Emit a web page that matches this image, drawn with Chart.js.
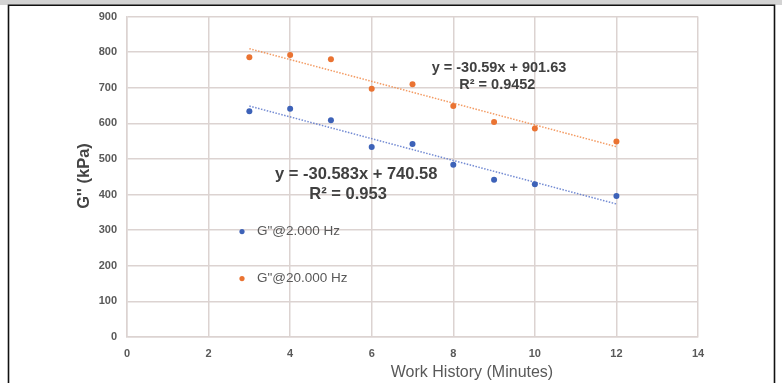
<!DOCTYPE html>
<html>
<head>
<meta charset="utf-8">
<script src="https://cdn.jsdelivr.net/npm/chart.js@4/dist/chart.umd.min.js"></script>
<style>
html,body{margin:0;padding:0;background:#fff;}
#wrap{position:relative;width:782px;height:383px;}
canvas{display:block;}
</style>
</head>
<body>
<div id="wrap"><canvas id="c" width="782" height="383"></canvas></div>
<script>
// ---- data ----
const minutes = [3, 4, 5, 6, 7, 8, 9, 10, 12];
const g2Hz = [634, 641, 609, 534, 542, 484, 442, 429, 396];
const g20Hz = [786, 792, 780, 697, 710, 649, 604, 586, 549];
const seriesNames = ['G"@2.000 Hz', 'G"@20.000 Hz'];
const xTicks = [0, 2, 4, 6, 8, 10, 12, 14];
const yTicks = [0, 100, 200, 300, 400, 500, 600, 700, 800, 900];
// trendline coefficients as printed in the chart
const trend2Hz = { slope: -30.583, intercept: 740.58, r2: '0.953' };
const trend20Hz = { slope: -30.59, intercept: 901.63, r2: '0.9452' };
const xTitle = 'Work History (Minutes)';
const yTitle = 'G\'\' (kPa)';

const BLUE = '#3d62b8';
const ORANGE = '#ea7332';
const GRID = '#dcd3d1';
const TXT = '#595959';
const FONT = '"Liberation Sans", Arial, sans-serif';

function pts(xs, ys) { return xs.map((x, i) => ({ x: x, y: ys[i] })); }
function trendPts(t) {
  const x0 = minutes[0], x1 = minutes[minutes.length - 1];
  return [{ x: x0, y: t.slope * x0 + t.intercept }, { x: x1, y: t.slope * x1 + t.intercept }];
}
function eqText(t) {
  return 'y = ' + t.slope + 'x + ' + t.intercept;
}

const framePlugin = {
  id: 'frame',
  beforeDraw(chart) {
    const ctx = chart.ctx;
    ctx.save();
    ctx.fillStyle = '#fff';
    ctx.fillRect(0, 0, 782, 383);
    ctx.fillStyle = '#d3d3d3';
    ctx.fillRect(0, 0, 782, 5);
    ctx.strokeStyle = '#111';
    ctx.lineWidth = 1.6;
    ctx.beginPath();
    ctx.moveTo(8.5, 384); ctx.lineTo(8.5, 5.3); ctx.lineTo(774.5, 5.3); ctx.lineTo(774.5, 384);
    ctx.stroke();
    ctx.restore();
  },
  afterDraw(chart) {
    const ctx = chart.ctx, ca = chart.chartArea;
    const xs = chart.scales.x, ys = chart.scales.y;
    ctx.save();
    // axis titles
    ctx.fillStyle = TXT;
    ctx.textAlign = 'center';
    ctx.textBaseline = 'middle';
    ctx.font = '16px ' + FONT;
    ctx.fillText(xTitle, 472, 373);
    ctx.save();
    ctx.translate(84, 176);
    ctx.rotate(-Math.PI / 2);
    ctx.font = 'bold 16.5px ' + FONT;
    ctx.fillStyle = '#444';
    ctx.fillText(yTitle, 0, 0);
    ctx.restore();
    // trendline equations
    ctx.fillStyle = '#404040';
    ctx.font = 'bold 14.5px ' + FONT;
    ctx.fillText(eqText(trend20Hz), xs.getPixelForValue(9.12), ys.getPixelForValue(756));
    ctx.fillText('R² = ' + trend20Hz.r2, xs.getPixelForValue(9.08), ys.getPixelForValue(708));
    ctx.font = 'bold 16.5px ' + FONT;
    ctx.fillText(eqText(trend2Hz), xs.getPixelForValue(5.62), ys.getPixelForValue(457));
    ctx.fillText('R² = ' + trend2Hz.r2, xs.getPixelForValue(5.42), ys.getPixelForValue(401));
    // legend inside plot
    const lx = ca.left + 115;
    const items = [[BLUE, seriesNames[0], ca.top + 215], [ORANGE, seriesNames[1], ca.top + 262]];
    ctx.font = '13.5px ' + FONT;
    ctx.textAlign = 'left';
    items.forEach(([col, name, y]) => {
      ctx.fillStyle = col;
      ctx.beginPath(); ctx.arc(lx, y, 2.6, 0, Math.PI * 2); ctx.fill();
      ctx.fillStyle = TXT;
      ctx.fillText(name, lx + 15, y);
    });
    ctx.restore();
  }
};

new Chart(document.getElementById('c'), {
  type: 'scatter',
  data: {
    datasets: [
      { label: seriesNames[0], data: pts(minutes, g2Hz), backgroundColor: BLUE, borderColor: BLUE, pointRadius: 3, pointBorderWidth: 0 },
      { label: seriesNames[1], data: pts(minutes, g20Hz), backgroundColor: ORANGE, borderColor: ORANGE, pointRadius: 3, pointBorderWidth: 0 },
      { type: 'line', label: 'trend2', data: trendPts(trend2Hz), borderColor: 'rgba(80,110,200,0.8)', borderWidth: 1.5, borderDash: [1.5, 1.5], pointRadius: 0, fill: false },
      { type: 'line', label: 'trend20', data: trendPts(trend20Hz), borderColor: 'rgba(240,130,60,0.8)', borderWidth: 1.5, borderDash: [1.5, 1.5], pointRadius: 0, fill: false }
    ]
  },
  options: {
    responsive: false,
    animation: false,
    devicePixelRatio: 1,
    layout: { padding: { left: 87, right: 84, top: 14, bottom: 0 } },
    plugins: { legend: { display: false }, tooltip: { enabled: false } },
    scales: {
      x: {
        type: 'linear', min: 0, max: 14,
        afterBuildTicks: s => { s.ticks = xTicks.map(v => ({ value: v })); },
        afterFit: s => { s.height = 46; },
        grid: { color: GRID, lineWidth: 1.5, drawTicks: false },
        border: { color: GRID, width: 1.5 },
        ticks: { color: TXT, padding: 10, font: { size: 11, family: FONT, weight: 'bold' } }
      },
      y: {
        type: 'linear', min: 0, max: 900,
        afterBuildTicks: s => { s.ticks = yTicks.map(v => ({ value: v })); },
        afterFit: s => { s.width = 40; },
        grid: { color: GRID, lineWidth: 1.5, drawTicks: false },
        border: { color: GRID, width: 1.5 },
        ticks: { color: TXT, padding: 10, font: { size: 11, family: FONT, weight: 'bold' } }
      }
    }
  },
  plugins: [framePlugin]
});
</script>
</body>
</html>
